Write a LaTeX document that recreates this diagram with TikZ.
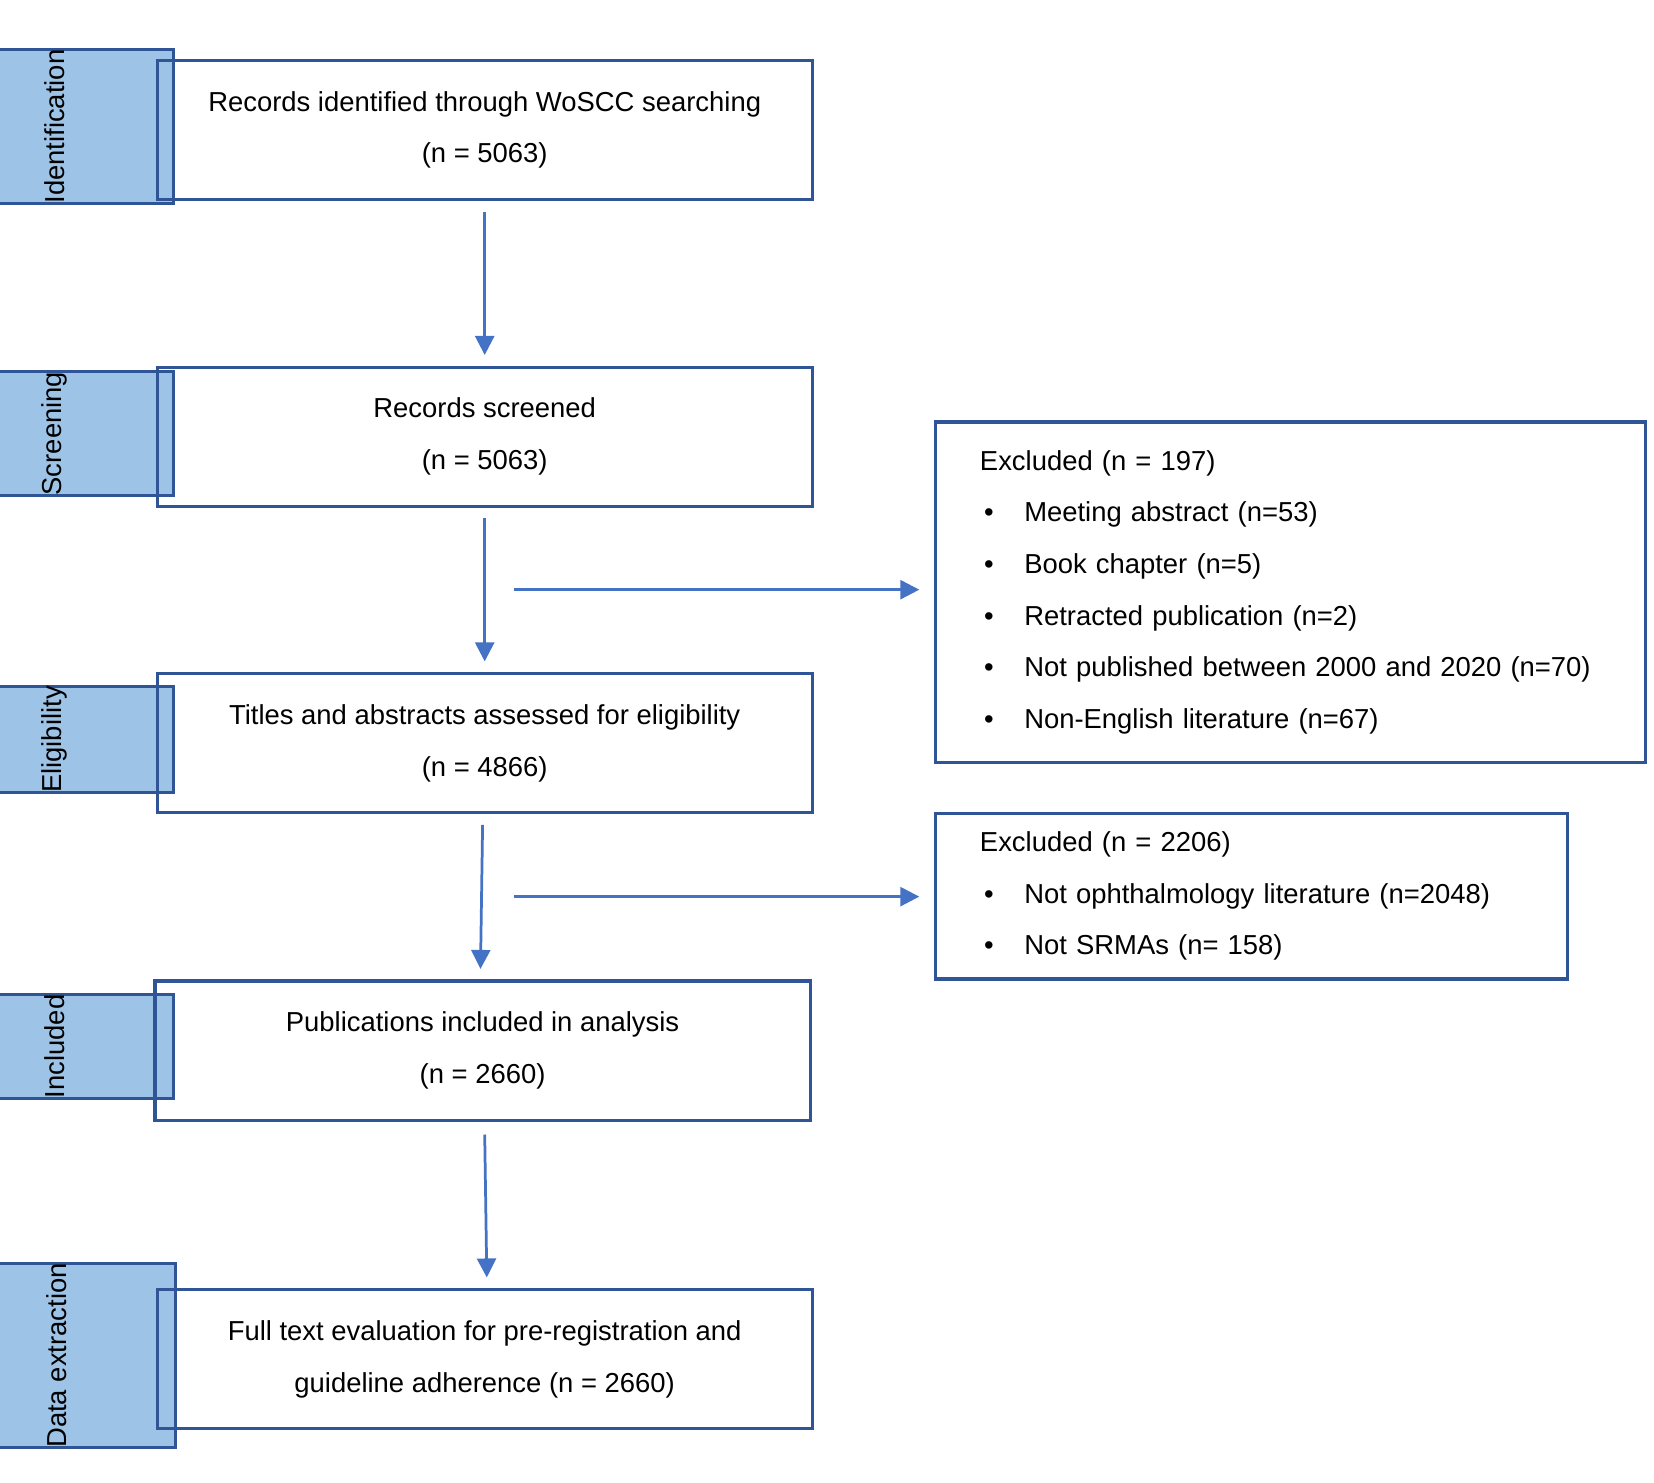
\documentclass[tikz,border=0pt]{standalone}
\usepackage{fontspec}
\usetikzlibrary{arrows.meta}
\setmainfont{Liberation Sans}
\definecolor{barfill}{HTML}{9DC3E6}
\definecolor{barline}{HTML}{2F5597}
\definecolor{arrblue}{HTML}{4472C4}
\newcommand{\bul}{\makebox[21pt][l]{\hspace{2pt}\textbullet}}
\begin{document}
\begin{tikzpicture}[x=0.5pt,y=-0.5pt,
    stage/.style={draw=barline, line width=1.5pt, fill=barfill, minimum width=43pt, minimum height=113pt, rotate=90, font=\fontsize{13}{15}\selectfont, inner sep=0pt},
    box/.style={draw=barline, line width=1.5pt, minimum width=310.5pt, minimum height=66pt, align=center, font=\fontsize{13}{24.5}\selectfont, inner sep=0pt},
    excl/.style={draw=barline, line width=1.5pt, align=left, font=\fontsize{13}{24.5}\selectfont, inner sep=0pt},
    flow/.style={arrblue, line width=1.3pt, -{Triangle[length=9pt,width=9pt]}}]
  \useasboundingbox (0,0) rectangle (1568,1405);

  % stage bars
  \node[stage] (id) at (51.5,120) {Identification};
  \node[stage] (scr) at (51.5,411) {Screening};
  \node[stage] (eli) at (51.5,701) {Eligibility};
  \node[stage] (inc) at (51.5,992) {Included};
  \node[stage] (ext) at (53.5,1285) {Data extraction};

  % main boxes
  \node[box] (rec) at (459.5,123) {Records identified through WoSCC searching\\(n = 5063)};
  \node[box] (scrn) at (459.5,414) {Records screened\\(n = 5063)};
  \node[box] (tit) at (459.5,704.5) {Titles and abstracts assessed for eligibility\\(n = 4866)};
  \node[box] (pub) at (457.5,996) {Publications included in analysis\\(n = 2660)};
  \node[box] (full) at (459.5,1288.5) {Full text evaluation for pre-registration and\\guideline adherence (n = 2660)};

  % exclusion boxes
  \node[excl, minimum width=336.5pt, minimum height=161.5pt, text width=294.5pt] (ex1) at (1223.5,561.5)
    {Excluded (n = 197)\\
     \bul Meeting abstract (n=53)\\
     \bul Book chapter (n=5)\\
     \bul Retracted publication (n=2)\\
     \bul Not published between 2000 and 2020 (n=70)\\
     \bul Non-English literature (n=67)};
  \node[excl, minimum width=299.5pt, minimum height=78.5pt, text width=257.5pt] (ex2) at (1186.5,849.5)
    {Excluded (n = 2206)\\
     \bul Not ophthalmology literature (n=2048)\\
     \bul Not SRMAs (n= 158)};

  % arrows
  \coordinate (s1) at (487,559);
  \coordinate (s2) at (487,850);
  \draw[flow] ([yshift=-5pt]rec.south) -- ([yshift=5pt]scrn.north);
  \draw[flow] ([yshift=-5pt]scrn.south) -- ([yshift=5pt]tit.north);
  \draw[flow] ([xshift=-1pt,yshift=-5pt]tit.south) -- ([xshift=-1pt,yshift=5pt]pub.north);
  \draw[flow] ([xshift=1pt,yshift=-6pt]pub.south) -- ([xshift=1pt,yshift=5pt]full.north);
  \draw[flow] (s1) -- ([xshift=-7pt]ex1.west |- s1);
  \draw[flow] (s2) -- ([xshift=-7pt]ex2.west |- s2);
\end{tikzpicture}
\end{document}
